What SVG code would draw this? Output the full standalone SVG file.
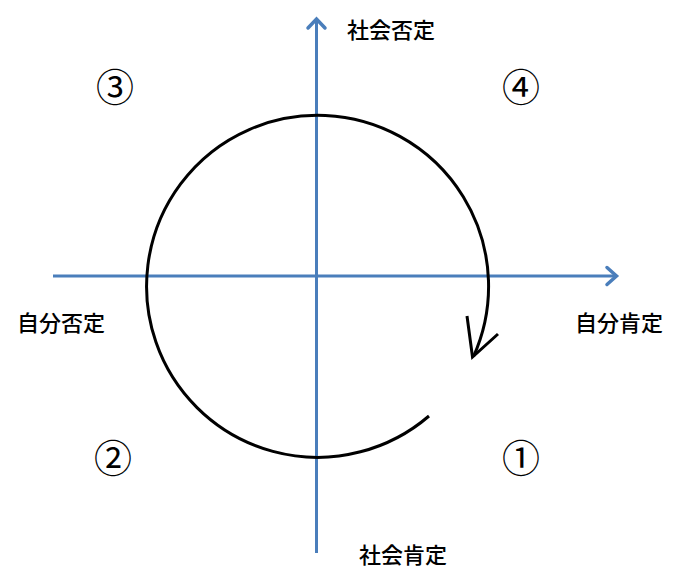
<svg xmlns="http://www.w3.org/2000/svg" width="680" height="580" viewBox="0 0 680 580">
<style>
.axis{stroke:#4a7ebb;stroke-width:3;fill:none}
.ah{stroke:#4a7ebb;stroke-width:3.5;fill:none;stroke-linecap:round;stroke-linejoin:miter}
.cyc{stroke:#000;stroke-width:3;fill:none}
.lbl{font-family:"Noto Sans CJK JP","Noto Sans CJK SC",sans-serif;font-size:22px;font-weight:500;fill:#000}
.num{font-family:"Noto Sans CJK JP","Noto Sans CJK SC",sans-serif;font-size:38px;font-weight:400;fill:#000;text-anchor:middle}
</style>
<rect width="680" height="580" fill="#fff"/>
<g id="connectors">
<line class="axis" x1="316.5" y1="553" x2="316.5" y2="20"/>
<polyline class="ah" points="308,28 316.5,19 325,28"/>
<line class="axis" x1="53" y1="276" x2="616" y2="276"/>
<polyline class="ah" points="607,267.5 616.5,276 607,284.5"/>
<path class="cyc" d="M429,416 A171,171 0 1,1 473.5,356.5"/>
<polyline class="cyc" points="467,316 472.5,357 498,334"/>
</g>
<g id="label-top"><text class="lbl" x="347" y="38">社会否定</text></g>
<g id="label-bottom"><text class="lbl" x="359" y="563">社会肯定</text></g>
<g id="label-left"><text class="lbl" x="17" y="331">自分否定</text></g>
<g id="label-right"><text class="lbl" x="575" y="331">自分肯定</text></g>
<g id="q3"><text class="num" x="115" y="101">③</text></g>
<g id="q4"><text class="num" x="521" y="101">④</text></g>
<g id="q2"><text class="num" x="113" y="472">②</text></g>
<g id="q1"><text class="num" x="521" y="472">①</text></g>
</svg>
